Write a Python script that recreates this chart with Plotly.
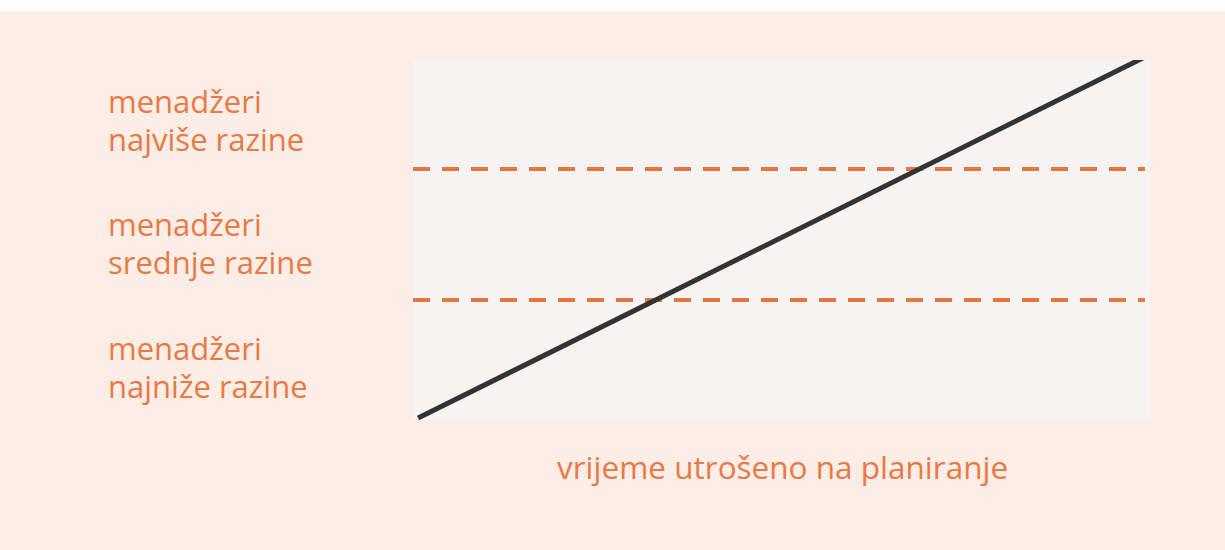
import plotly.graph_objects as go

# planning time vs. management level (arbitrary units)
time_spent = [0, 10]
level = [0, 10]

# boundaries between management levels
boundary_levels = [6.9, 3.27]
boundary_x = [-0.07, 10.0]

group_labels = [
    ["menadžeri", "najviše razine"],
    ["menadžeri", "srednje razine"],
    ["menadžeri", "najniže razine"],
]
group_centers = [8.25, 4.85, 1.4]
x_title = "vrijeme utrošeno na planiranje"

ORANGE = "#e8743f"
TEXT_ORANGE = "#ea7a45"
FONT = "Open Sans"

fig = go.Figure()

for b in boundary_levels:
    fig.add_trace(go.Scatter(
        x=boundary_x, y=[b, b], mode="lines",
        line=dict(color=ORANGE, width=4, dash="17px,12px"),
        hoverinfo="skip", showlegend=False, cliponaxis=False
    ))

fig.add_trace(go.Scatter(
    x=time_spent, y=level, mode="lines",
    line=dict(color="#333333", width=5),
    showlegend=False, cliponaxis=False
))

# level labels on the left, one annotation per line of text
for lines, yc in zip(group_labels, group_centers):
    for i, txt in enumerate(lines):
        fig.add_annotation(
            text=txt, xref="paper", yref="y",
            x=-0.417, y=yc, yshift=19 - 38 * i,
            xanchor="left", yanchor="middle", showarrow=False,
            font=dict(family=FONT, size=31, color=TEXT_ORANGE)
        )

fig.add_annotation(
    text=x_title, xref="paper", yref="paper",
    x=0.501, y=-0.13, xanchor="center", yanchor="middle",
    showarrow=False,
    font=dict(family=FONT, size=31.5, color=TEXT_ORANGE)
)

# thin white strip along the top edge of the scan
fig.add_shape(type="rect", xref="paper", yref="paper",
              x0=-1, x1=2, y0=1.135, y1=1.3,
              fillcolor="#ffffff", line_width=0, layer="below")

fig.update_layout(
    width=1225, height=550,
    margin=dict(l=413, r=75, t=60, b=130),
    paper_bgcolor="#fcede6",
    plot_bgcolor="#f6f4f3",
    xaxis=dict(range=[-0.07, 10.07], visible=False, fixedrange=True),
    yaxis=dict(range=[-0.055, 9.917], visible=False, fixedrange=True),
)

fig.write_html("out.html", config={"displayModeBar": False},
               post_script="document.body.style.margin='0px';")
